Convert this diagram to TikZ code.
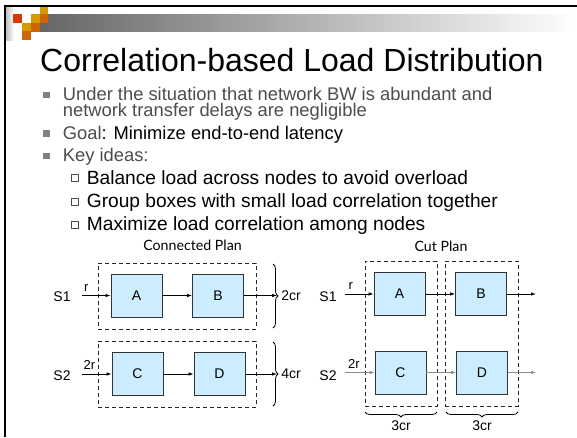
\documentclass[tikz,border=0pt]{standalone}
\usepackage{fontspec}
\setmainfont{Liberation Sans}
\newfontfamily\planfont{Lato}
\usetikzlibrary{arrows.meta,decorations.pathreplacing}
\definecolor{sqred}{RGB}{214,58,0}
\definecolor{sqgold}{RGB}{212,154,0}
\definecolor{sqorange}{RGB}{204,102,0}
\definecolor{boxblue}{RGB}{204,236,255}
\definecolor{txtgray}{RGB}{77,77,77}
\definecolor{bulgray}{RGB}{128,128,128}
\begin{document}
\begin{tikzpicture}[x=1pt,y=-1pt,
  sq/.style={minimum size=8.7pt,inner sep=0pt,anchor=north west},
  line/.style={anchor=base west,inner sep=0pt,font=\fontsize{18.35}{18.35}\selectfont},
  subline/.style={anchor=base west,inner sep=0pt,font=\fontsize{19.15}{19.15}\selectfont},
  opbox/.style={draw=black!80,line width=0.8pt,fill=boxblue,minimum width=51pt,minimum height=43pt,inner sep=0pt,font=\fontsize{14}{14}\selectfont},
  grp/.style={draw=black!85,line width=1pt,dash pattern=on 4pt off 3pt,inner sep=0pt},
  arr/.style={-{Latex[length=5pt,width=3.5pt]},line width=0.8pt},
  garr/.style={arr,draw=black!45},
  lbl/.style={inner sep=0pt,font=\fontsize{14}{14}\selectfont},
  rlbl/.style={inner sep=0pt,font=\fontsize{13}{13}\selectfont},
  brc/.style={decorate,decoration={brace,amplitude=5pt},line width=0.8pt},
  plan/.style={inner sep=0pt,font=\planfont\fontsize{14.2}{14.2}\selectfont}
]
\useasboundingbox (0,0) rectangle (577,437);
\fill[white] (0,0) rectangle (577,437);
% header decoration
\shade[left color=black!60,right color=white] (40,14) rectangle (577,31);
\shade[left color=black!25,right color=white] (6,7) rectangle (14,40);
\node[sq,fill=sqred]    (q1) at (13,14) {};
\node[sq,fill=sqgold]   (q2) at (30.7,14) {};
\node[sq,fill=sqgold]   (q3) at (39.3,6.7) {};
\node[sq,fill=sqorange] (q4) at (39.3,14) {};
\node[sq,fill=sqgold]   (q5) at (21.7,22.7) {};
\node[sq,fill=sqorange] (q6) at (30.7,22.7) {};
\node[sq,fill=sqorange] (q7) at (21.7,31) {};
\draw[line width=2pt] (4,6) -- (577,6);
\draw[line width=2pt] (5,5) -- (5,437);
% title
\node[anchor=base west,inner sep=0pt,font=\fontsize{32}{32}\selectfont] (title) at (40,71) {Correlation-based Load Distribution};
% bullets
\fill[bulgray] (43,91.5) rectangle (49.5,98);
\fill[bulgray] (43,130) rectangle (49.5,136.5);
\fill[bulgray] (43,152.5) rectangle (49.5,159);
\node[line,text=txtgray,text depth=0pt] (l1) at (62.7,100.7) {Under the situation that network BW is abundant and};
\node[line,text=txtgray,text height=13.4pt] (l2) at (62.7,116.5) {network transfer delays are negligible};
\node[line] (l3) at (62.7,139.3) {\textcolor{txtgray}{Goal}: Minimize end-to-end latency};
\node[line,text=txtgray] (l4) at (62.7,161.5) {Key ideas:};
\draw[black!70,line width=0.6pt] (71,174.5) rectangle (78,181.5);
\draw[black!70,line width=0.6pt] (71,197.8) rectangle (78,204.8);
\draw[black!70,line width=0.6pt] (71,221.2) rectangle (78,228.2);
\node[subline] (s1) at (86.7,184) {Balance load across nodes to avoid overload};
\node[subline] (s2) at (86.7,207.3) {Group boxes with small load correlation together};
\node[subline] (s3) at (86.7,230.7) {Maximize load correlation among nodes};
% plan titles
\node[plan] (cp) at (192.5,245) {Connected Plan};
\node[plan] (ctp) at (441,246) {Cut Plan};
% ---- Connected plan ----
\node[grp,minimum width=158pt,minimum height=66pt] (g1) at (177,296) {};
\node[grp,minimum width=158pt,minimum height=66pt] (g2) at (177,374) {};
\node[opbox] (A) at (136.5,295.5) {A};
\node[opbox] (B) at (218,295.5) {B};
\node[opbox] (C) at (137.5,374) {C};
\node[opbox] (D) at (219.5,374) {D};
\node[lbl] (S1) at (62,297) {S1};
\node[lbl] (S2) at (62,376) {S2};
\coordinate (s1o) at (82,295.5);
\coordinate (s2o) at (82,374);
\coordinate (bo) at (277,295.5);
\coordinate (do) at (277,374);
\draw[arr] (s1o) -- node[rlbl,above=4pt,pos=0.15] (r1) {r} (A);
\draw[arr] (A) -- (B);
\draw[arr] (B) -- (bo);
\draw[arr] (s2o) -- node[rlbl,above=4pt,pos=0.25] (r2) {2r} (C);
\draw[arr] (C) -- (D);
\draw[arr] (D) -- (do);
\draw[brc] (273,264) -- (273,328) node[lbl,midway,right=8pt] (b1) {2cr};
\draw[brc] (273,342) -- (273,406) node[lbl,midway,right=8pt] (b2) {4cr};
% ---- Cut plan ----
\node[grp,minimum width=72pt,minimum height=145pt] (h1) at (401,333.5) {};
\node[grp,minimum width=73pt,minimum height=145pt] (h2) at (481.5,333.5) {};
\node[opbox] (A2) at (399.5,294) {A};
\node[opbox] (B2) at (481,294) {B};
\node[opbox] (C2) at (400.5,372.5) {C};
\node[opbox] (D2) at (482,372.5) {D};
\node[lbl] (T1) at (328,297) {S1};
\node[lbl] (T2) at (328,376) {S2};
\coordinate (t1o) at (345,294);
\coordinate (t2o) at (345,372.5);
\coordinate (b2o) at (536,294);
\coordinate (d2o) at (536,372.5);
\draw[arr] (t1o) -- node[rlbl,above=4pt,pos=0.2] (r3) {r} (A2);
\draw[arr] (A2) -- (B2);
\draw[arr] (B2) -- (b2o);
\draw[garr] (t2o) -- node[rlbl,above=4pt,pos=0.3,text=black] (r4) {2r} (C2);
\draw[garr] (C2) -- (D2);
\draw[garr] (D2) -- (d2o);
\draw[brc] (437,412) -- (365,412) node[lbl,midway,below=8pt] (b3) {3cr};
\draw[brc] (518,412) -- (446,412) node[lbl,midway,below=8pt] (b4) {3cr};
\end{tikzpicture}
\end{document}
